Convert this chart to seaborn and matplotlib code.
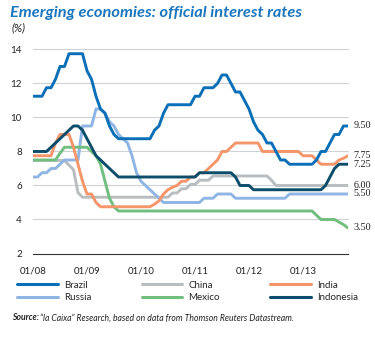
import numpy as np
import pandas as pd
import matplotlib
matplotlib.use("Agg")
import matplotlib.pyplot as plt
import seaborn as sns
from matplotlib.lines import Line2D

# ---------------- data (monthly, Jan 2008 .. Nov 2013) ----------------
months = list(range(71))
tick_pos = [0, 12, 24, 36, 48, 60]
tick_labels = ["01/08", "01/09", "01/10", "01/11", "01/12", "01/13"]
yticks = [2, 4, 6, 8, 10, 12, 14]

brazil = ([11.25] * 3 + [11.75] * 2 + [12.25] + [13.0] * 2 + [13.75] * 4 +
          [12.75, 12.25, 11.25, 10.5, 10.25, 9.5, 9.0] + [8.75] * 8 +
          [9.25, 9.5, 10.25] + [10.75] * 6 + [11.25] * 2 + [11.75] * 3 +
          [12.0] + [12.5] * 2 + [12.0] + [11.5] * 2 + [11.0, 10.5, 9.75, 9.25, 9.0] +
          [8.5] * 2 + [8.0] + [7.5] * 2 + [7.25] * 6 + [7.5] + [8.0] * 2 + [8.5] +
          [9.0] * 2 + [9.5] * 2)
russia = ([6.5, 6.5, 6.75, 6.75, 7.0, 7.0, 7.25, 7.5, 7.5, 7.5, 7.5, 9.5, 9.5, 9.5,
           10.5, 10.5, 10.25, 9.75, 9.5, 9.0, 8.75, 8.5, 7.75, 6.75, 6.25, 6.0, 5.75,
           5.5, 5.25] + [5.0] * 9 + [5.25] * 3 + [5.5] * 4 + [5.25] * 12 + [5.5] * 14)
china = ([7.47] * 8 + [7.2, 6.93, 5.58] + [5.31] * 20 + [5.56] * 2 + [5.81] * 2 +
         [6.06] * 2 + [6.31] * 3 + [6.56] * 13 + [6.31] + [6.0] * 17)
india = ([7.75] * 5 + [8.5] + [9.0] * 3 + [8.25, 7.25, 6.25] + [5.5] * 2 + [5.0] +
         [4.75] * 12 + [4.9, 5.1, 5.5, 5.75, 5.9, 6.0] + [6.25] * 2 + [6.5] * 2 +
         [6.75] * 2 + [7.0, 7.25, 7.5] + [8.0] * 2 + [8.25] + [8.5] * 6 + [8.0] * 9 +
         [7.75] * 3 + [7.5] + [7.25] * 4 + [7.5, 7.6, 7.75])
mexico = ([7.5] * 6 + [7.9] + [8.25] * 6 + [8.0, 7.75, 7.25, 6.25, 5.25, 4.75] +
          [4.5] * 44 + [4.25] + [4.0] * 4 + [3.85, 3.7, 3.5])
indonesia = ([8.0] * 4 + [8.25, 8.5, 8.75, 9.0, 9.25] + [9.5] * 2 +
             [9.25, 8.75, 8.25, 7.75, 7.5, 7.25, 7.0, 6.75] + [6.5] * 18 +
             [6.75] * 8 + [6.5] + [6.0] * 3 + [5.75] * 16 + [6.0, 6.5, 7.0] + [7.25] * 3)

end_labels = ["9.50", "7.75", "7.25", "6.00", "5.50", "3.50"]
end_values = [9.5, 7.75, 7.25, 6.0, 5.5, 3.5]

series = {"Brazil": brazil, "Russia": russia, "China": china,
          "Mexico": mexico, "India": india, "Indonesia": indonesia}
colors = {"Brazil": "#0a6fb7", "Russia": "#8fb5e4", "China": "#b9bdbf",
          "Mexico": "#70bf7e", "India": "#f5956a", "Indonesia": "#0b4d6b"}
draw_order = ["China", "Russia", "Mexico", "India", "Indonesia", "Brazil"]
legend_order = ["Brazil", "Russia", "China", "Mexico", "India", "Indonesia"]

df = pd.concat([pd.DataFrame({"month": months, "rate": v, "country": k})
                for k, v in series.items()], ignore_index=True)

# ---------------- figure ----------------
sns.set_style("white")
plt.rcParams["font.family"] = ["Lato", "DejaVu Sans"]

fig = plt.figure(figsize=(3.75, 3.38), dpi=100)
ax = fig.add_axes([0.088, 0.25, 0.84, 0.6036])

for c in draw_order:
    sns.lineplot(data=df[df["country"] == c], x="month", y="rate", color=colors[c],
                 linewidth=2.1, ax=ax, legend=False, solid_joinstyle="round")

ax.set_xlim(0, 70)
ax.set_ylim(2, 14)
ax.set_yticks(yticks)
ax.set_yticklabels([str(t) for t in yticks], fontsize=7, color="#222222")
ax.set_xticks(tick_pos)
ax.set_xticklabels(tick_labels, fontsize=7, color="#222222")
ax.set_xlabel("")
ax.set_ylabel("")
for y in yticks[1:]:
    ax.axhline(y, color="#cfd2d4", linewidth=0.8, zorder=0, clip_on=False)
for s in ["top", "right", "left"]:
    ax.spines[s].set_visible(False)
ax.spines["bottom"].set_color("#333333")
ax.spines["bottom"].set_linewidth(0.8)
ax.tick_params(axis="y", length=0, pad=8)
ax.tick_params(axis="x", length=3, width=0.8, color="#333333", direction="out", pad=6)

for lab, val in zip(end_labels, end_values):
    ax.annotate(lab, xy=(1.0, val), xycoords=("axes fraction", "data"),
                xytext=(4, 0), textcoords="offset points", va="center", ha="left",
                fontsize=7.3, family=["Liberation Serif", "DejaVu Serif"], color="#222222",
                annotation_clip=False)

fig.text(0.027, 0.962, "Emerging economies: official interest rates", fontsize=11.8,
         fontweight="bold", fontstyle="italic", color="#1a76bf", va="center", ha="left")
fig.text(0.03, 0.917, "(%)", fontsize=8, fontstyle="italic", color="#222222",
         va="center", ha="left")

handles = [Line2D([0], [0], color=colors[c], linewidth=2.2) for c in legend_order]
fig.legend(handles, legend_order, ncol=3, loc="center", bbox_to_anchor=(0.5, 0.138),
           frameon=False, fontsize=7, handlelength=4.2, handletextpad=0.6,
           columnspacing=5.2, labelspacing=0.35)

t1 = fig.text(0.032, 0.06, "Source:", fontsize=6.2, fontweight="bold", fontstyle="italic",
              color="#222222", va="center", ha="left")
fig.canvas.draw()
bb = t1.get_window_extent(renderer=fig.canvas.get_renderer())
x2 = (bb.x1 + 0.5) / fig.bbox.width
fig.text(x2, 0.06, "\u201cla Caixa\u201d Research, based on data from Thomson Reuters Datastream.",
         fontsize=6.2, fontstyle="italic", color="#222222", va="center", ha="left")

fig.savefig("out.png", dpi=100)
